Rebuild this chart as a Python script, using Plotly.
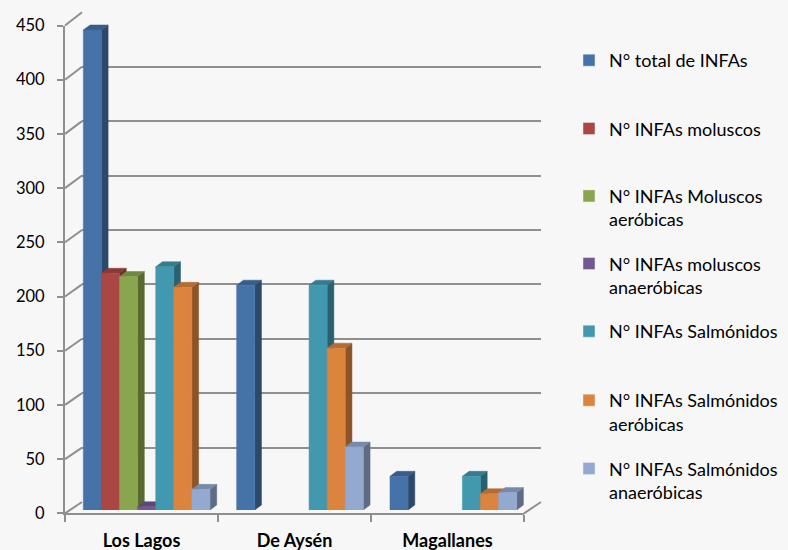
import plotly.graph_objects as go

# ---------------- data ----------------
categories = ["Los Lagos", "De Aysén", "Magallanes"]
series_names = [
    "N° total de INFAs",
    "N° INFAs moluscos",
    "N° INFAs Moluscos<br>aeróbicas",
    "N° INFAs moluscos<br>anaeróbicas",
    "N° INFAs Salmónidos",
    "N° INFAs Salmónidos<br>aeróbicas",
    "N° INFAs Salmónidos<br>anaeróbicas",
]
total_infas = [442, 207, 31]
infas_moluscos = [218, 0, 0]
moluscos_aerobicas = [215, 0, 0]
moluscos_anaerobicas = [3, 0, 0]
infas_salmonidos = [224, 207, 31]
salmonidos_aerobicas = [205, 149, 15]
salmonidos_anaerobicas = [19, 58, 16]
y_ticks = list(range(0, 451, 50))

series_values = [total_infas, infas_moluscos, moluscos_aerobicas, moluscos_anaerobicas,
                 infas_salmonidos, salmonidos_aerobicas, salmonidos_anaerobicas]
colors = ["#4572A7", "#AA4643", "#89A54E", "#71588F", "#4198AF", "#DB843D", "#93A9CF"]

# ---------------- geometry (pixels) ----------------
W, H = 788, 550
BG = "#f7f7f7"
GRID = "#8f8f8f"


def fx(px):
    return px / W


def fy(py):
    return 1 - py / H


# front plane (axis)
F_X0, F_X1 = 65, 524
F_Y0, F_Y450 = 513.3, 25.5
# back wall
B_X0, B_X1 = 82, 541
B_Y0, B_Y450 = 502, 12.3
# bars plane
R_X0, R_X1 = 70, 530
R_Y0, R_Y450 = 510, 21.3


def yF(v):
    return F_Y0 + (F_Y450 - F_Y0) * v / 450.0


def yB(v):
    return B_Y0 + (B_Y450 - B_Y0) * v / 450.0


def shade(hexc, f):
    hexc = hexc.lstrip("#")
    r, g, b = (int(hexc[i:i + 2], 16) for i in (0, 2, 4))
    return "#%02x%02x%02x" % (int(r * f), int(g * f), int(b * f))


px_per_cat = (R_X1 - R_X0) / 3.0
px_per_unit = (R_Y0 - R_Y450) / 450.0
bar_w = 18.1 / px_per_cat
group_start = -3.5 * bar_w
dx = 6.7 / px_per_cat
dy = 5.0 / px_per_unit

fig = go.Figure()

# back wall subplot (x, y) - only gridlines
fig.add_trace(go.Scatter(x=[0], y=[None], xaxis="x", yaxis="y", showlegend=False,
                         hoverinfo="skip", mode="markers"))
# front axis subplot (x2, y2)
fig.add_trace(go.Scatter(x=categories, y=[0, 0, 0], xaxis="x2", yaxis="y2", showlegend=False,
                         hoverinfo="skip", mode="markers", marker=dict(opacity=0)))

# 3D-looking bars, painter's order: series by series (left to right in a group)
for j, (vals, col) in enumerate(zip(series_values, colors)):
    side_x, side_y, top_x, top_y, fr_x, fr_y = [], [], [], [], [], []
    for i, v in enumerate(vals):
        if v <= 0:
            continue
        xl = i + group_start + j * bar_w
        xr = xl + bar_w
        side_x += [xr, xr + dx, xr + dx, xr, xr, None]
        side_y += [0, dy, v + dy, v, 0, None]
        top_x += [xl, xr, xr + dx, xl + dx, xl, None]
        top_y += [v, v, v + dy, v + dy, v, None]
        fr_x += [xl, xr, xr, xl, xl, None]
        fr_y += [0, 0, v, v, 0, None]
    for xs, ys, c in ((side_x, side_y, shade(col, 0.64)),
                      (top_x, top_y, shade(col, 0.82)),
                      (fr_x, fr_y, col)):
        if not xs:
            continue
        fig.add_trace(go.Scatter(x=xs, y=ys, xaxis="x3", yaxis="y3", mode="lines",
                                 fill="toself", fillcolor=c, line=dict(color=c, width=0.5),
                                 hoverinfo="skip", showlegend=False))

# legend entries (one legend per entry to reproduce Excel's spacing)
legend_keys = ["legend"] + ["legend%d" % k for k in range(2, 8)]
for j, (name, col) in enumerate(zip(series_names, colors)):
    fig.add_trace(go.Bar(x=[None], y=[None], name=name, marker_color=col,
                         xaxis="x3", yaxis="y3", legend=legend_keys[j], showlegend=True))

first_line_centers = [60, 128.3, 195.7, 263.3, 331, 400, 468.3]
legend_left = 569
leg_font = dict(family="Lato", size=18, color="#000000")
layout_legends = {}
for key, cy in zip(legend_keys, first_line_centers):
    layout_legends[key] = dict(x=fx(legend_left), xanchor="left", y=fy(cy - 18), yanchor="top",
                               font=leg_font, bgcolor="rgba(0,0,0,0)", valign="top",
                               itemclick=False, itemdoubleclick=False)

# wall / floor decoration lines
shapes = []
for v in y_ticks:
    shapes.append(dict(type="line", xref="paper", yref="paper",
                       x0=fx(F_X0), y0=fy(yF(v)), x1=fx(B_X0), y1=fy(yB(v)),
                       line=dict(color=GRID, width=2), layer="below"))
shapes.append(dict(type="line", xref="paper", yref="paper",
                   x0=fx(F_X1), y0=fy(yF(0)), x1=fx(B_X1), y1=fy(yB(0)),
                   line=dict(color=GRID, width=2), layer="below"))

fig.update_layout(
    width=W, height=H,
    margin=dict(l=0, r=0, t=0, b=0, autoexpand=False),
    paper_bgcolor=BG, plot_bgcolor="rgba(0,0,0,0)",
    showlegend=True,
    shapes=shapes,
    xaxis=dict(domain=[fx(B_X0), fx(B_X1)], range=[0, 1], visible=False, anchor="y"),
    yaxis=dict(domain=[fy(B_Y0), fy(B_Y450)], range=[0, 450], tickvals=y_ticks,
               showgrid=True, gridcolor=GRID, gridwidth=2, zeroline=False,
               showticklabels=False, ticks="", showline=False, anchor="x"),
    xaxis2=dict(domain=[fx(F_X0), fx(F_X1)], type="category", categoryarray=categories,
                range=[-0.5, 2.5], anchor="y2", showline=True, linecolor=GRID, linewidth=2,
                tickson="boundaries", ticks="outside", ticklen=7, tickwidth=2, tickcolor=GRID,
                showgrid=False, zeroline=False, ticklabelstandoff=10,
                tickfont=dict(family="Lato", size=18, color="#000000", weight="bold")),
    yaxis2=dict(domain=[fy(F_Y0), fy(F_Y450)], range=[0, 450], tickvals=y_ticks, anchor="x2",
                showline=True, linecolor=GRID, linewidth=2, ticks="outside", ticklen=6,
                tickwidth=2, tickcolor=GRID, showgrid=False, zeroline=False,
                ticklabelstandoff=9,
                tickfont=dict(family="Lato", size=16.5, color="#000000")),
    xaxis3=dict(domain=[fx(R_X0), fx(R_X1)], range=[-0.5, 2.5], visible=False, anchor="y3"),
    yaxis3=dict(domain=[fy(R_Y0), fy(R_Y450)], range=[0, 450], visible=False, anchor="x3"),
    **layout_legends,
)

fig.write_html("out.html", config={"displayModeBar": False, "staticPlot": True},
               post_script="document.body.style.margin='0';"
                           "document.body.style.padding='0';"
                           "document.body.style.overflow='hidden';")
